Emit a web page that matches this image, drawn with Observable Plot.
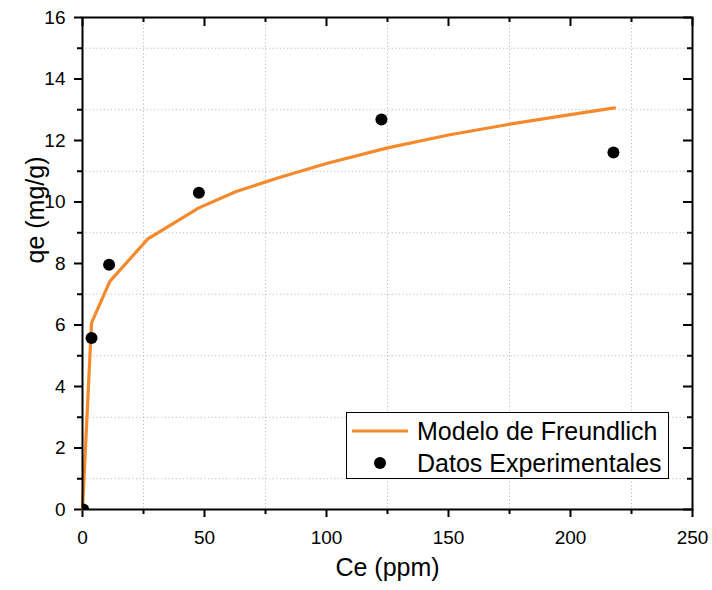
<!DOCTYPE html>
<html>
<head>
<meta charset="utf-8">
<script src="https://cdn.jsdelivr.net/npm/d3@7"></script>
<script src="https://cdn.jsdelivr.net/npm/@observablehq/plot@0.6"></script>
<style>
  body { margin: 0; background: #fff; }
  #wrap { position: relative; width: 712px; height: 590px; font-family: "Liberation Sans", Arial, sans-serif; }
  #legend { position: absolute; left: 346px; top: 412px; width: 323px; height: 67px; border: 1px solid #000; background: #fff; box-sizing: border-box; }
  .row { position: absolute; left: 0; height: 32px; display: flex; align-items: center; font-size: 25px; color: #000; white-space: nowrap; }
  .row svg { margin-left: 5px; margin-right: 7px; }
</style>
</head>
<body>
<div id="wrap"></div>
<script>
// Experimental data (Ce ppm, qe mg/g)
const expCe = [0.3, 3.7, 10.9, 47.7, 122.5, 217.6];
const expQe = [0.0, 5.58, 7.96, 10.30, 12.68, 11.61];
// Freundlich model curve
const modCe = [0, 3.7, 11.2, 26.8, 47.7, 63, 80, 100, 125, 150, 175, 200, 218];
const modQe = [0, 6.07, 7.42, 8.80, 9.81, 10.34, 10.78, 11.25, 11.76, 12.18, 12.53, 12.84, 13.06];
// ticks
const xMajor = [0, 50, 100, 150, 200, 250];
const xMinor = [25, 75, 125, 175, 225];
const yMajor = [0, 2, 4, 6, 8, 10, 12, 14, 16];
const yMinor = [1, 3, 5, 7, 9, 11, 13, 15];
const xTitle = "Ce (ppm)";
const yTitle = "qe (mg/g)";
const legendLabels = ["Modelo de Freundlich", "Datos Experimentales"];

const orange = "#f58a2c";
const W = 712, H = 590, mt = 17, mr = 20, mb = 81, ml = 82;
const innerH = H - mt - mb, innerW = W - ml - mr;
const font = "Liberation Sans, Arial, sans-serif";

const points = expCe.map((c, i) => ({c, q: expQe[i]}));
const curve = modCe.map((c, i) => ({c, q: modQe[i]}));

const chart = Plot.plot({
  width: W, height: H,
  marginTop: mt, marginRight: mr, marginBottom: mb, marginLeft: ml,
  style: {fontFamily: font, background: "#fff", color: "#000", overflow: "visible"},
  x: {domain: [0, 250]},
  y: {domain: [0, 16]},
  marks: [
    Plot.ruleX(xMinor, {stroke: "#bdbdbd", strokeWidth: 1, strokeDasharray: "1.2,2.4"}),
    Plot.ruleY(yMinor, {stroke: "#bdbdbd", strokeWidth: 1, strokeDasharray: "1.2,2.4"}),
    // bottom axis
    Plot.axisX({ticks: xMajor, tickSize: 8, tickPadding: 13, strokeWidth: 2, fontSize: 19, label: null}),
    Plot.axisX({ticks: xMinor, tickSize: 5, strokeWidth: 2, tickFormat: () => "", label: null}),
    // left axis
    Plot.axisY({ticks: yMajor, tickSize: 8, tickPadding: 9, strokeWidth: 2, fontSize: 19, label: null}),
    Plot.axisY({ticks: yMinor, tickSize: 5, strokeWidth: 2, tickFormat: () => "", label: null}),
    // axis titles
    Plot.text([xTitle], {text: d => d, frameAnchor: "bottom", dy: 66, fontSize: 25, fill: "#000"}),
    Plot.text([yTitle], {text: d => d, frameAnchor: "left", dx: -47, rotate: -90, fontSize: 25, fill: "#000"}),
    // top inward ticks
    Plot.tickX(xMajor, {x: d => d, stroke: "#000", strokeWidth: 2, insetBottom: innerH - 9}),
    Plot.tickX(xMinor, {x: d => d, stroke: "#000", strokeWidth: 2, insetBottom: innerH - 5}),
    // right inward ticks
    Plot.tickY(yMajor, {y: d => d, stroke: "#000", strokeWidth: 2, insetLeft: innerW - 9}),
    Plot.tickY(yMinor, {y: d => d, stroke: "#000", strokeWidth: 2, insetLeft: innerW - 5}),
    Plot.line(curve, {x: "c", y: "q", stroke: orange, strokeWidth: 3.2, strokeLinejoin: "miter"}),
    Plot.dot(points, {x: "c", y: "q", r: 6, fill: "#000", stroke: null, clip: true}),
    Plot.frame({stroke: "#000", strokeWidth: 2})
  ]
});

const wrap = document.getElementById("wrap");
wrap.appendChild(chart);

// legend
const leg = document.createElement("div");
leg.id = "legend";
const sym = [
  `<svg width="58" height="10"><line x1="0" y1="5" x2="56" y2="5" stroke="${orange}" stroke-width="3.2"/></svg>`,
  `<svg width="58" height="14"><circle cx="28" cy="7" r="6" fill="#000"/></svg>`
];
legendLabels.forEach((t, i) => {
  const r = document.createElement("div");
  r.className = "row";
  r.style.top = (2 + i * 32) + "px";
  r.innerHTML = sym[i] + `<span>${t}</span>`;
  leg.appendChild(r);
});
wrap.appendChild(leg);
</script>
</body>
</html>
